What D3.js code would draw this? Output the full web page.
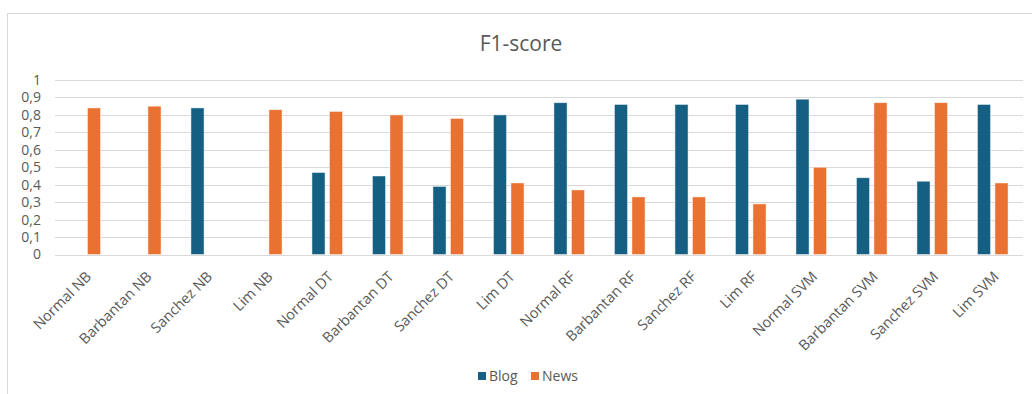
<!DOCTYPE html>
<html>
<head>
<meta charset="utf-8">
<script src="https://cdn.jsdelivr.net/npm/d3@7"></script>
<style>
  body { margin: 0; background: #fff; }
  svg { display: block; font-family: "Open Sans", sans-serif; }
</style>
</head>
<body>
<div id="chart"></div>
<script>
// chart data
var categories = ["Normal NB", "Barbantan NB", "Sanchez NB", "Lim NB",
                  "Normal DT", "Barbantan DT", "Sanchez DT", "Lim DT",
                  "Normal RF", "Barbantan RF", "Sanchez RF", "Lim RF",
                  "Normal SVM", "Barbantan SVM", "Sanchez SVM", "Lim SVM"];
var seriesNames = ["Blog", "News"];
var blogValues = [0, 0, 0.84, 0, 0.47, 0.45, 0.39, 0.80, 0.87, 0.86, 0.86, 0.86, 0.89, 0.44, 0.42, 0.86];
var newsValues = [0.84, 0.85, 0, 0.83, 0.82, 0.80, 0.78, 0.41, 0.37, 0.33, 0.33, 0.29, 0.50, 0.87, 0.87, 0.41];
var yTicks = [0, 0.1, 0.2, 0.3, 0.4, 0.5, 0.6, 0.7, 0.8, 0.9, 1];

var W = 1032, H = 394;
var colors = { Blog: "#156082", News: "#E97132" };
var textColor = "#595959";
var plot = { left: 55, right: 1023, top: 80, bottom: 254.5 };

var svg = d3.select("#chart").append("svg")
    .attr("width", W)
    .attr("height", H);

// outer chart frame
svg.append("rect")
    .attr("x", 7.5).attr("y", 13.5)
    .attr("width", 1040).attr("height", 400)
    .attr("fill", "#fff")
    .attr("stroke", "#d9d9d9");

// title
svg.append("text")
    .attr("x", 521).attr("y", 51)
    .attr("text-anchor", "middle")
    .attr("font-size", "21px")
    .attr("fill", textColor)
    .text("F1-score");

// scales
var x0 = d3.scaleBand()
    .domain(categories)
    .range([plot.left, plot.right])
    .paddingInner(0.494)
    .paddingOuter(0.247);
var x1 = d3.scaleBand()
    .domain(seriesNames)
    .range([0, x0.bandwidth()])
    .paddingInner(0.25);
var y = d3.scaleLinear()
    .domain([0, 1])
    .range([plot.bottom, plot.top]);

// gridlines
svg.append("g")
    .selectAll("line")
    .data(yTicks)
    .enter()
    .append("line")
    .attr("x1", plot.left).attr("x2", plot.right)
    .attr("y1", function(d) { return Math.round(y(d)) + 0.5; })
    .attr("y2", function(d) { return Math.round(y(d)) + 0.5; })
    .attr("stroke", "#d9d9d9")
    .attr("stroke-width", 1);

// y axis labels
var yAxis = d3.axisLeft(y)
    .tickValues(yTicks)
    .tickSize(0)
    .tickPadding(0)
    .tickFormat(function(d) { return String(d).replace(".", ","); });
var gy = svg.append("g")
    .attr("transform", "translate(" + 41 + ",0)")
    .call(yAxis);
gy.select(".domain").remove();
gy.selectAll("text")
    .attr("fill", textColor)
    .attr("font-size", "14px")
    .attr("font-family", "'Open Sans', sans-serif");

// bars
var rows = categories.map(function(c, i) {
    return { cat: c, vals: [
        { key: "Blog", value: blogValues[i] },
        { key: "News", value: newsValues[i] }
    ] };
});

var groups = svg.append("g")
    .selectAll("g")
    .data(rows)
    .enter()
    .append("g")
    .attr("transform", function(d) { return "translate(" + x0(d.cat) + ",0)"; });

groups.selectAll("rect")
    .data(function(d) { return d.vals.filter(function(v) { return v.value > 0; }); })
    .enter()
    .append("rect")
    .attr("x", function(d) { return x1(d.key); })
    .attr("y", function(d) { return y(d.value); })
    .attr("width", x1.bandwidth())
    .attr("height", function(d) { return y(0) - y(d.value); })
    .attr("fill", function(d) { return colors[d.key]; })
    .attr("stroke", "#fff")
    .attr("stroke-opacity", 0.6)
    .attr("stroke-width", 0.8);

// x axis labels
var xAxis = d3.axisBottom(x0).tickSize(0).tickPadding(0);
var gx = svg.append("g")
    .attr("transform", "translate(0," + plot.bottom + ")")
    .call(xAxis);
gx.select(".domain").remove();
gx.selectAll("text")
    .attr("fill", textColor)
    .attr("font-size", "14.5px")
    .attr("font-family", "'Open Sans', sans-serif")
    .attr("text-anchor", "end")
    .attr("dy", "0")
    .attr("transform", "translate(7,23) rotate(-45)");

// legend
var legend = svg.append("g")
    .attr("transform", "translate(478,370)");
var items = legend.selectAll("g")
    .data(seriesNames)
    .enter()
    .append("g")
    .attr("transform", function(d, i) { return "translate(" + (i * 53) + ",0)"; });
items.append("rect")
    .attr("x", 0).attr("y", 2)
    .attr("width", 8).attr("height", 8)
    .attr("fill", function(d) { return colors[d]; });
items.append("text")
    .attr("x", 11).attr("y", 11)
    .attr("font-size", "14px")
    .attr("fill", textColor)
    .text(function(d) { return d; });
</script>
</body>
</html>
